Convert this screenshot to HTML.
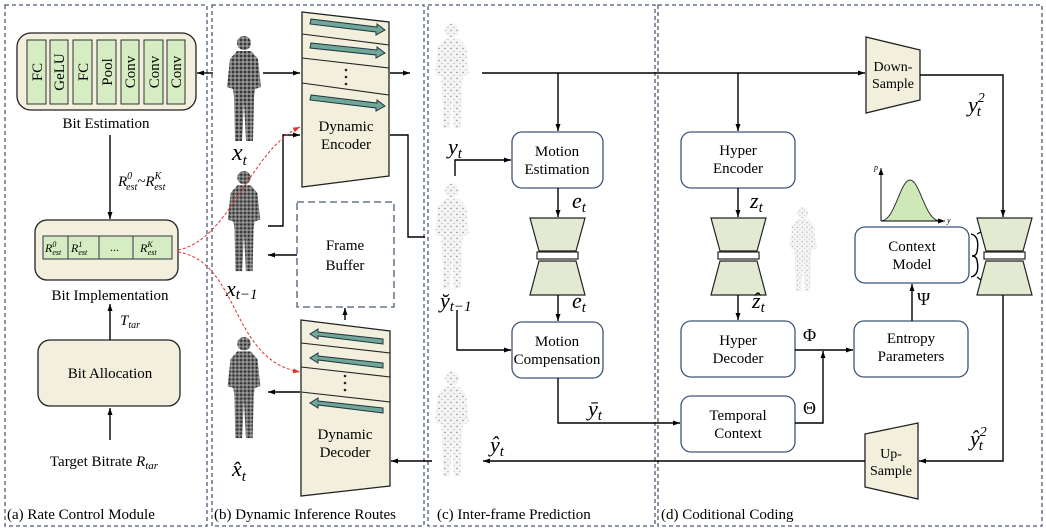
<!DOCTYPE html>
<html><head><meta charset="utf-8"><style>
body{margin:0;background:#fff;}
svg{display:block;font-family:"Liberation Serif",serif;}
.m{font-style:italic;}
</style></head><body>
<svg width="1046" height="530" viewBox="0 0 1046 530" xmlns="http://www.w3.org/2000/svg">
<defs>
<marker id="ar" markerWidth="8" markerHeight="8" refX="7" refY="4" orient="auto" markerUnits="userSpaceOnUse"><path d="M0,1.5 L7,4 L0,6.5 Z" fill="#000"/></marker>
<marker id="arr" markerWidth="8" markerHeight="8" refX="7" refY="4" orient="auto" markerUnits="userSpaceOnUse"><path d="M0,1.5 L7,4 L0,6.5 Z" fill="#d33"/></marker>
<pattern id="dk" width="4" height="4" patternUnits="userSpaceOnUse"><rect width="4" height="4" fill="#777"/><circle cx="1" cy="1" r="1" fill="#222"/><circle cx="3" cy="3" r="0.8" fill="#bbb"/></pattern>
<pattern id="lt" width="6" height="6" patternUnits="userSpaceOnUse"><rect width="6" height="6" fill="#f4f4f4"/><circle cx="1" cy="2" r="0.7" fill="#888"/><circle cx="4" cy="5" r="0.6" fill="#aaa"/></pattern>
<symbol id="person" viewBox="0 0 40 110">
<circle cx="20" cy="8" r="7"/>
<path d="M13,16 L27,16 L34,24 L37,52 L31,54 L30,62 L29,106 L22,106 L20,68 L18,106 L11,106 L10,62 L9,54 L3,52 L6,24 Z"/>
</symbol>
</defs>

<!-- panels -->
<g fill="none" stroke="#4a5a78" stroke-width="1.3" stroke-dasharray="4,3">
<rect x="5" y="5" width="202" height="521"/>
<rect x="212" y="5" width="212" height="521"/>
<rect x="428" y="5" width="227" height="521"/>
<rect x="658" y="5" width="384" height="521"/>
</g>
<g font-size="15">
<text x="7" y="519">(a) Rate Control Module</text>
<text x="214" y="519">(b) Dynamic Inference Routes</text>
<text x="437" y="519">(c) Inter-frame Prediction</text>
<text x="661" y="519">(d) Coditional Coding</text>
</g>

<!-- (a) -->
<rect x="17" y="33" width="179" height="77" rx="14" fill="#f2efdc" stroke="#222" stroke-width="1.3"/>
<g fill="#d6ecc2" stroke="#333" stroke-width="1">
<rect x="27" y="40" width="19" height="64"/><rect x="50" y="40" width="18" height="64"/><rect x="73" y="40" width="19" height="64"/><rect x="97" y="40" width="19" height="64"/><rect x="121" y="40" width="18" height="64"/><rect x="144" y="40" width="19" height="64"/><rect x="167" y="40" width="18" height="64"/>
</g>
<rect x="35" y="220" width="143" height="60" rx="12" fill="#f2efdc" stroke="#222" stroke-width="1.3"/>
<rect x="38" y="340" width="142" height="66" rx="12" fill="#f2efdc" stroke="#222" stroke-width="1.3"/>
<g font-size="15" text-anchor="middle">
<text transform="translate(42,72) rotate(-90)">FC</text>
<text transform="translate(64,72) rotate(-90)">GeLU</text>
<text transform="translate(88,72) rotate(-90)">FC</text>
<text transform="translate(112,72) rotate(-90)">Pool</text>
<text transform="translate(135,72) rotate(-90)">Conv</text>
<text transform="translate(159,72) rotate(-90)">Conv</text>
<text transform="translate(181,72) rotate(-90)">Conv</text>
<text x="106" y="128">Bit Estimation</text>
<text x="110" y="300">Bit Implementation</text>
<text x="110" y="378">Bit Allocation</text>
<text x="104" y="466">Target Bitrate <tspan class="m">R</tspan><tspan class="m" font-size="11" dy="3">tar</tspan></text>
</g>
<line x1="110" y1="135" x2="110" y2="219" stroke="#000" stroke-width="1.4" marker-end="url(#ar)"/>
<text x="118" y="186" font-size="15" class="m">R<tspan font-size="10" dy="-7">0</tspan><tspan font-size="10" dx="-6" dy="11">est</tspan><tspan dy="-4">~R</tspan><tspan font-size="10" dy="-7">K</tspan><tspan font-size="10" dx="-7" dy="11">est</tspan></text>
<g fill="#d6ecc2" stroke="#334" stroke-width="1">
<rect x="43" y="236" width="25" height="23"/><rect x="68" y="236" width="31" height="23"/><rect x="99" y="236" width="34" height="23"/><rect x="133" y="236" width="39" height="23"/>
</g>
<g font-size="12" class="m">
<text x="45" y="252">R<tspan font-size="8" dy="-5">0</tspan><tspan font-size="8" dx="-4" dy="8">est</tspan></text>
<text x="71" y="252">R<tspan font-size="8" dy="-5">1</tspan><tspan font-size="8" dx="-4" dy="8">est</tspan></text>
<text x="110" y="251" font-style="normal">...</text>
<text x="140" y="252">R<tspan font-size="8" dy="-5">K</tspan><tspan font-size="8" dx="-5" dy="8">est</tspan></text>
</g>
<line x1="110" y1="340" x2="110" y2="304" stroke="#000" stroke-width="1.4" marker-end="url(#ar)"/>
<text x="120" y="325" font-size="15" class="m">T<tspan font-size="10" dy="3">tar</tspan></text>
<line x1="110" y1="440" x2="110" y2="408" stroke="#000" stroke-width="1.4" marker-end="url(#ar)"/>

<!-- (b) figures -->
<use href="#person" x="222" y="35" width="44" height="110" fill="url(#dk)"/>
<use href="#person" x="222" y="170" width="44" height="105" fill="url(#dk)"/>
<use href="#person" x="222" y="336" width="44" height="106" fill="url(#dk)"/>
<text x="232" y="160" font-size="24" class="m">x<tspan font-size="15" dy="5">t</tspan></text>
<text x="226" y="296" font-size="22" class="m">x<tspan font-size="15" dy="3">t−1</tspan></text>
<text x="232" y="476" font-size="22" class="m">x̂<tspan font-size="15" dy="5">t</tspan></text>

<!-- encoder -->
<path d="M302,12 L389,22 L389,176 L302,187 Z" fill="#f2efdc" stroke="#222" stroke-width="1.3"/>
<g stroke="#222" stroke-width="1.1"><line x1="302" y1="34" x2="389" y2="45"/><line x1="302" y1="58" x2="389" y2="68"/><line x1="302" y1="83" x2="389" y2="95"/></g>
<g fill="#6fa896" stroke="#234" stroke-width="1">
<path d="M311,19 L377,27 L377,24 L385,30 L376,35 L376,32 L310,24 Z"/>
<path d="M311,43 L377,50 L377,47 L385,53 L376,58 L376,55 L310,48 Z"/>
<path d="M311,95 L377,103 L377,100 L385,106 L376,111 L376,108 L310,100 Z"/>
</g>
<g fill="#222"><circle cx="346" cy="70" r="1.3"/><circle cx="346" cy="77" r="1.3"/><circle cx="346" cy="84" r="1.3"/></g>
<text x="346" y="131" font-size="15" text-anchor="middle">Dynamic</text>
<text x="346" y="149" font-size="15" text-anchor="middle">Encoder</text>

<!-- decoder -->
<path d="M301,320 L390,331 L390,486 L301,496 Z" fill="#f2efdc" stroke="#222" stroke-width="1.3"/>
<g stroke="#222" stroke-width="1.1"><line x1="301" y1="343" x2="390" y2="353"/><line x1="301" y1="367" x2="390" y2="377"/><line x1="301" y1="392" x2="390" y2="402"/></g>
<g fill="#6fa896" stroke="#234" stroke-width="1">
<path d="M383,339 L318,332 L318,329 L310,334 L318,339 L318,336 L383,344 Z"/>
<path d="M383,363 L318,356 L318,353 L310,358 L318,363 L318,360 L383,368 Z"/>
<path d="M383,408 L318,401 L318,398 L310,403 L318,408 L318,405 L383,413 Z"/>
</g>
<g fill="#222"><circle cx="345" cy="376" r="1.3"/><circle cx="345" cy="383" r="1.3"/><circle cx="345" cy="390" r="1.3"/></g>
<text x="345" y="439" font-size="15" text-anchor="middle">Dynamic</text>
<text x="345" y="457" font-size="15" text-anchor="middle">Decoder</text>

<rect x="297" y="202" width="97" height="105" fill="none" stroke="#4a5a78" stroke-width="1.3" stroke-dasharray="7,4"/>
<text x="345" y="250" font-size="15" text-anchor="middle">Frame</text>
<text x="345" y="270" font-size="15" text-anchor="middle">Buffer</text>

<g stroke="#000" stroke-width="1.4" fill="none">
<line x1="213" y1="73" x2="197" y2="73" marker-end="url(#ar)"/>
<line x1="263" y1="73" x2="300" y2="73" marker-end="url(#ar)"/>
<line x1="390" y1="73" x2="410" y2="73" marker-end="url(#ar)"/>
<polyline points="268,226 283,226 283,135 300,135" marker-end="url(#ar)"/>
<polyline points="390,135 408,135 408,237 425,237"/>
<line x1="297" y1="255" x2="268" y2="255" marker-end="url(#ar)"/>
<line x1="345" y1="320" x2="345" y2="308" marker-end="url(#ar)"/>
<line x1="300" y1="392" x2="268" y2="392" marker-end="url(#ar)"/>
<line x1="432" y1="461" x2="391" y2="461" marker-end="url(#ar)"/>
</g>
<g stroke="#d33" stroke-width="1" fill="none" stroke-dasharray="3,2">
<path d="M178,250 C230,240 250,150 300,127" marker-end="url(#arr)"/>
<path d="M178,252 C240,262 230,360 300,372" marker-end="url(#arr)"/>
</g>

<!-- (c) -->
<use href="#person" x="432" y="20" width="40" height="115" fill="url(#lt)"/>
<use href="#person" x="432" y="180" width="40" height="115" fill="url(#lt)"/>
<use href="#person" x="432" y="368" width="40" height="115" fill="url(#lt)"/>
<text x="448" y="154" font-size="22" class="m">y<tspan font-size="15" dy="4">t</tspan></text>
<text x="440" y="308" font-size="22" class="m">y̆<tspan font-size="15" dy="3">t−1</tspan></text>
<text x="490" y="452" font-size="22" class="m">ŷ<tspan font-size="15" dy="4">t</tspan></text>
<text x="588" y="416" font-size="22" class="m">ȳ<tspan font-size="15" dy="4">t</tspan></text>
<text x="572" y="208" font-size="22" class="m">e<tspan font-size="15" dy="4">t</tspan></text>
<text x="572" y="308" font-size="22" class="m">ê<tspan font-size="15" dy="4">t</tspan></text>

<g fill="#fff" stroke="#3f5577" stroke-width="1.3">
<rect x="512" y="132" width="91" height="56" rx="10"/>
<rect x="512" y="322" width="91" height="56" rx="10"/>
<rect x="681" y="132" width="114" height="56" rx="10"/>
<rect x="681" y="321" width="114" height="56" rx="10"/>
<rect x="681" y="396" width="114" height="56" rx="10"/>
<rect x="854" y="321" width="114" height="56" rx="10"/>
<rect x="855" y="227" width="114" height="56" rx="10"/>
</g>
<g font-size="15" text-anchor="middle">
<text x="557" y="156">Motion</text><text x="557" y="174">Estimation</text>
<text x="557" y="346">Motion</text><text x="557" y="364">Compensation</text>
<text x="738" y="155">Hyper</text><text x="738" y="173">Encoder</text>
<text x="738" y="345">Hyper</text><text x="738" y="363">Decoder</text>
<text x="738" y="420">Temporal</text><text x="738" y="438">Context</text>
<text x="911" y="343">Entropy</text><text x="911" y="361">Parameters</text>
<text x="912" y="251">Context</text><text x="912" y="269">Model</text>
</g>

<!-- bottlenecks -->
<g id="bn">
<path d="M530,218 L585,218 L576,251 L539,251 Z" fill="#e3ead2" stroke="#222" stroke-width="1.2"/>
<rect x="537" y="252" width="41" height="7" fill="#fff" stroke="#222" stroke-width="1.2"/>
<path d="M539,261 L576,261 L585,295 L530,295 Z" fill="#e3ead2" stroke="#222" stroke-width="1.2"/>
</g>
<use href="#bn" x="181"/>
<use href="#bn" x="447"/>

<!-- down/up sample -->
<path d="M866,37 L920,50 L920,100 L866,113 Z" fill="#f2efdc" stroke="#222" stroke-width="1.3"/>
<text x="893" y="71" font-size="14" text-anchor="middle">Down-</text>
<text x="893" y="88" font-size="14" text-anchor="middle">Sample</text>
<path d="M865,434 L918,423 L918,499 L865,487 Z" fill="#f2efdc" stroke="#222" stroke-width="1.3"/>
<text x="891" y="458" font-size="14" text-anchor="middle">Up-</text>
<text x="891" y="475" font-size="14" text-anchor="middle">Sample</text>

<use href="#person" x="787" y="198" width="32" height="105" fill="url(#lt)"/>
<text x="750" y="208" font-size="22" class="m">z<tspan font-size="15" dy="4">t</tspan></text>
<text x="752" y="308" font-size="22" class="m">ẑ<tspan font-size="15" dy="4">t</tspan></text>
<text x="803" y="341" font-size="18">Φ</text>
<text x="803" y="414" font-size="18">Θ</text>
<text x="917" y="305" font-size="18">Ψ</text>
<text x="968" y="112" font-size="22" class="m">y<tspan font-size="14" dy="-10">2</tspan><tspan font-size="15" dx="-8" dy="14">t</tspan></text>
<text x="970" y="446" font-size="22" class="m">ŷ<tspan font-size="14" dy="-10">2</tspan><tspan font-size="15" dx="-8" dy="14">t</tspan></text>

<!-- gaussian -->
<path d="M881,221 C895,221 900,180 910,180 C920,180 925,221 940,221 Z" fill="#cfe8b8" stroke="#333" stroke-width="1"/>
<g stroke="#000" stroke-width="1" fill="none">
<line x1="881" y1="221" x2="881" y2="168" marker-end="url(#ar)"/>
<line x1="881" y1="221" x2="945" y2="221" marker-end="url(#ar)"/>
</g>
<text x="874" y="170" font-size="8" class="m">p</text>
<text x="947" y="223" font-size="8" class="m">y</text>
<path d="M971,234 Q980,236 977,252 Q976,256 972,256 Q976,256 977,260 Q980,275 971,277" fill="none" stroke="#000" stroke-width="1.4"/>
<path d="M977,234 L981,232 M977,277 L981,280" stroke="#000" stroke-width="1.2"/>

<!-- connectors (c,d) -->
<g stroke="#000" stroke-width="1.4" fill="none">
<line x1="482" y1="73" x2="865" y2="73" marker-end="url(#ar)"/>
<line x1="558" y1="73" x2="558" y2="131" marker-end="url(#ar)"/>
<line x1="738" y1="73" x2="738" y2="131" marker-end="url(#ar)"/>
<polyline points="455,176 455,160 511,160" marker-end="url(#ar)"/>
<line x1="558" y1="188" x2="558" y2="217" marker-end="url(#ar)"/>
<line x1="558" y1="295" x2="558" y2="321" marker-end="url(#ar)"/>
<polyline points="457,310 457,350 511,350" marker-end="url(#ar)"/>
<polyline points="558,378 558,423 680,423" marker-end="url(#ar)"/>
<line x1="738" y1="188" x2="738" y2="217" marker-end="url(#ar)"/>
<line x1="738" y1="295" x2="738" y2="320" marker-end="url(#ar)"/>
<line x1="795" y1="350" x2="853" y2="350" marker-end="url(#ar)"/>
<polyline points="795,423 823,423 823,351" marker-end="url(#ar)"/>
<line x1="912" y1="321" x2="912" y2="284" marker-end="url(#ar)"/>
<polyline points="920,75 1003,75 1003,217" marker-end="url(#ar)"/>
<polyline points="1003,295 1003,461 919,461" marker-end="url(#ar)"/>
<line x1="865" y1="461" x2="483" y2="461" marker-end="url(#ar)"/>
</g>
</svg>
</body></html>
